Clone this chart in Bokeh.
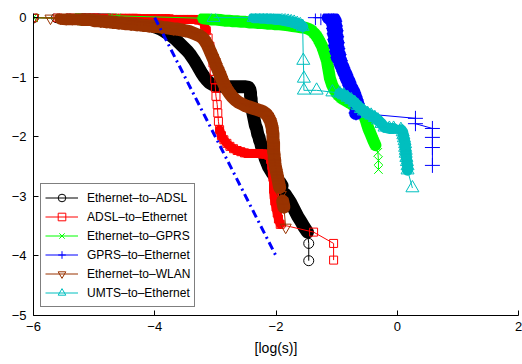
import math
from bokeh.plotting import figure
from bokeh.models import Range1d, FixedTicker, Legend, LegendItem
from bokeh.embed import file_html
from bokeh.resources import INLINE

# log10 of the complementary distribution vs log10 of delay [s]
eth_adsl_x = [-6.00, -5.62, -5.42, -5.28, -5.17, -5.08, -5.00, -4.93, -4.87, -4.81,
              -4.76, -4.71, -4.66, -4.61, -4.56, -4.51, -4.46, -4.41, -4.36, -4.31,
              -4.26, -4.21, -4.16, -4.11, -4.06, -4.01, -3.96, -3.91, -3.86, -3.81,
              -3.76, -3.71, -3.66, -3.61, -3.56, -3.51, -3.46, -3.42, -3.38, -3.34,
              -3.30, -3.26, -3.22, -3.18, -3.14, -3.10, -3.05, -3.00, -2.95, -2.90,
              -2.85, -2.80, -2.75, -2.70, -2.65, -2.60, -2.55, -2.50, -2.45, -2.43,
              -2.42, -2.42, -2.41, -2.41, -2.40, -2.40, -2.39, -2.38, -2.37, -2.36,
              -2.35, -2.34, -2.32, -2.31, -2.30, -2.28, -2.27, -2.25, -2.24, -2.22,
              -2.21, -2.19, -2.18, -2.16, -2.14, -2.12, -2.09, -2.06, -2.03, -2.00,
              -1.97, -1.93, -1.90, -1.85, -1.80, -1.76, -1.72, -1.68, -1.64, -1.59,
              -1.54, -1.48, -1.46, -1.46]
eth_adsl_y = [0.00, 0.00, -0.01, -0.01, -0.01, -0.02, -0.02, -0.02, -0.03, -0.03,
              -0.03, -0.04, -0.04, -0.05, -0.05, -0.06, -0.06, -0.07, -0.08, -0.08,
              -0.09, -0.10, -0.11, -0.12, -0.13, -0.15, -0.17, -0.19, -0.22, -0.25,
              -0.28, -0.32, -0.36, -0.41, -0.46, -0.51, -0.56, -0.61, -0.67, -0.73,
              -0.80, -0.87, -0.94, -1.00, -1.05, -1.09, -1.12, -1.14, -1.15, -1.15,
              -1.16, -1.16, -1.16, -1.16, -1.16, -1.16, -1.16, -1.16, -1.17, -1.21,
              -1.26, -1.31, -1.36, -1.41, -1.46, -1.51, -1.56, -1.61, -1.66, -1.71,
              -1.76, -1.81, -1.86, -1.91, -1.96, -2.01, -2.06, -2.11, -2.16, -2.21,
              -2.26, -2.31, -2.36, -2.41, -2.46, -2.51, -2.56, -2.61, -2.65, -2.69,
              -2.73, -2.77, -2.82, -2.96, -3.04, -3.10, -3.18, -3.26, -3.34, -3.42,
              -3.51, -3.60, -3.79, -4.08]

adsl_eth_x = [-6.00, -5.60, -5.40, -5.25, -5.12, -5.00, -4.90, -4.81, -4.73, -4.66,
              -4.60, -4.54, -4.48, -4.42, -4.36, -4.30, -4.24, -4.18, -4.12, -4.06,
              -4.00, -3.94, -3.88, -3.82, -3.76, -3.70, -3.64, -3.58, -3.52, -3.46,
              -3.40, -3.34, -3.28, -3.22, -3.18, -3.15, -3.12, -3.09, -3.06, -3.04,
              -3.02, -3.01, -3.00, -2.99, -2.97, -2.96, -2.95, -2.93, -2.90, -2.86,
              -2.81, -2.76, -2.70, -2.64, -2.58, -2.52, -2.46, -2.40, -2.34, -2.28,
              -2.22, -2.17, -2.12, -2.09, -2.07, -2.06, -2.05, -2.04, -2.04, -2.03,
              -2.02, -2.00, -1.98, -1.96, -1.93, -1.38, -1.05, -1.05]
adsl_eth_y = [0.00, 0.00, 0.00, 0.00, 0.00, 0.00, -0.01, -0.01, -0.01, -0.01,
              -0.01, -0.01, -0.01, -0.01, -0.01, -0.01, -0.02, -0.02, -0.02, -0.02,
              -0.02, -0.02, -0.02, -0.02, -0.02, -0.03, -0.03, -0.03, -0.03, -0.03,
              -0.03, -0.03, -0.04, -0.05, -0.12, -0.22, -0.34, -0.48, -0.62, -0.76,
              -0.90, -1.04, -1.18, -1.32, -1.46, -1.60, -1.74, -1.88, -1.98, -2.05,
              -2.11, -2.16, -2.20, -2.23, -2.25, -2.27, -2.28, -2.28, -2.28, -2.28,
              -2.29, -2.29, -2.31, -2.38, -2.48, -2.58, -2.68, -2.78, -2.88, -2.98,
              -3.08, -3.18, -3.28, -3.38, -3.47, -3.60, -3.79, -4.07]

eth_gprs_x = [-6.00, -5.27, -5.17, -4.73, -4.60, -3.20, -3.13, -3.06, -2.99, -2.92,
              -2.85, -2.78, -2.71, -2.64, -2.57, -2.50, -2.43, -2.36, -2.29, -2.22,
              -2.15, -2.08, -2.01, -1.94, -1.87, -1.80, -1.73, -1.66, -1.59, -1.52,
              -1.46, -1.41, -1.37, -1.33, -1.30, -1.27, -1.24, -1.22, -1.20, -1.18,
              -1.16, -1.15, -1.14, -1.13, -1.12, -1.11, -1.09, -1.07, -1.04, -1.01,
              -0.97, -0.92, -0.87, -0.82, -0.77, -0.72, -0.67, -0.62, -0.58, -0.54,
              -0.51, -0.48, -0.44, -0.40, -0.36, -0.32, -0.31, -0.31]
eth_gprs_y = [0.00, -0.02, -0.04, 0.03, 0.03, -0.01, -0.02, -0.03, -0.03, -0.04,
              -0.05, -0.05, -0.06, -0.06, -0.07, -0.07, -0.08, -0.08, -0.09, -0.09,
              -0.10, -0.10, -0.11, -0.11, -0.12, -0.13, -0.14, -0.15, -0.16, -0.17,
              -0.19, -0.22, -0.26, -0.31, -0.36, -0.42, -0.48, -0.54, -0.60, -0.66,
              -0.72, -0.78, -0.84, -0.90, -0.96, -1.02, -1.08, -1.14, -1.20, -1.25,
              -1.30, -1.35, -1.38, -1.41, -1.44, -1.47, -1.50, -1.54, -1.58, -1.66,
              -1.75, -1.85, -1.95, -2.05, -2.14, -2.26, -2.40, -2.55]

gprs_eth_x = [-1.35, -1.26, -1.13, -1.08, -1.05, -1.03, -1.06, -1.02, -1.05, -1.01,
              -1.04, -1.00, -1.03, -0.99, -1.02, -0.98, -1.00, -0.96, -0.98, -0.94,
              -0.93, -0.90, -0.88, -0.85, -0.83, -0.80, -0.78, -0.75, -0.72, -0.70,
              -0.68, -0.66, -0.65, -0.64, -0.68, 0.30, 0.30, 0.58, 0.58, 0.58,
              0.58]
gprs_eth_y = [0.00, 0.00, 0.00, 0.00, -0.02, -0.06, -0.10, -0.14, -0.18, -0.22,
              -0.27, -0.32, -0.37, -0.42, -0.47, -0.52, -0.57, -0.62, -0.67, -0.72,
              -0.78, -0.84, -0.90, -0.96, -1.02, -1.08, -1.14, -1.20, -1.26, -1.32,
              -1.38, -1.44, -1.50, -1.56, -1.60, -1.69, -1.78, -1.86, -2.01, -2.18,
              -2.48]

eth_wlan_x = [-6.00, -5.72, -5.55, -5.46, -5.36, -5.27, -5.19, -5.12, -5.07, -5.03,
              -4.99, -4.94, -4.89, -4.84, -4.79, -4.74, -4.69, -4.64, -4.59, -4.54,
              -4.49, -4.44, -4.39, -4.34, -4.29, -4.24, -4.19, -4.14, -4.09, -4.04,
              -3.99, -3.94, -3.89, -3.84, -3.79, -3.74, -3.69, -3.64, -3.59, -3.54,
              -3.49, -3.44, -3.39, -3.34, -3.29, -3.25, -3.21, -3.17, -3.13, -3.10,
              -3.07, -3.04, -3.01, -2.98, -2.95, -2.92, -2.89, -2.86, -2.83, -2.80,
              -2.76, -2.72, -2.67, -2.62, -2.56, -2.50, -2.44, -2.38, -2.32, -2.26,
              -2.21, -2.16, -2.13, -2.11, -2.09, -2.08, -2.07, -2.06, -2.06, -2.05,
              -2.05, -2.05, -2.04, -2.04, -2.04, -2.04, -2.03, -2.03, -2.02, -2.02,
              -2.01, -2.00, -1.99, -1.98, -1.97, -1.96, -1.95, -1.94, -1.92, -1.89,
              -1.87, -1.84]
eth_wlan_y = [0.00, -0.01, -0.01, -0.02, -0.02, -0.02, -0.03, -0.03, -0.03, -0.04,
              -0.05, -0.05, -0.06, -0.06, -0.07, -0.07, -0.08, -0.08, -0.09, -0.09,
              -0.10, -0.10, -0.11, -0.11, -0.12, -0.12, -0.13, -0.13, -0.14, -0.14,
              -0.15, -0.15, -0.16, -0.17, -0.17, -0.18, -0.19, -0.19, -0.20, -0.21,
              -0.22, -0.23, -0.25, -0.27, -0.29, -0.31, -0.34, -0.39, -0.46, -0.53,
              -0.60, -0.67, -0.74, -0.82, -0.89, -0.96, -1.04, -1.11, -1.17, -1.22,
              -1.28, -1.33, -1.38, -1.42, -1.45, -1.48, -1.50, -1.52, -1.54, -1.56,
              -1.58, -1.62, -1.66, -1.70, -1.74, -1.78, -1.82, -1.86, -1.90, -1.95,
              -2.00, -2.05, -2.10, -2.15, -2.20, -2.25, -2.30, -2.35, -2.40, -2.45,
              -2.50, -2.55, -2.60, -2.65, -2.70, -2.75, -2.80, -2.85, -2.97, -3.08,
              -3.18, -3.52]

umts_eth_x = [-3.03, -2.37, -2.30, -2.24, -2.18, -2.12, -2.06, -2.00, -1.95, -1.90,
              -1.85, -1.80, -1.75, -1.70, -1.65, -1.60, -1.56, -1.55, -1.54, -1.54,
              -1.33, -1.07, -0.95, -0.88, -0.82, -0.76, -0.70, -0.65, -0.60, -0.55,
              -0.49, -0.43, -0.37, -0.32, -0.26, -0.21, -0.13, -0.06, 0.06, 0.09,
              0.10, 0.11, 0.12, 0.13, 0.13, 0.14, 0.14, 0.15, 0.16, 0.17,
              0.17, 0.25]
umts_eth_y = [0.00, 0.00, 0.00, -0.01, -0.01, -0.02, -0.02, -0.03, -0.03, -0.04,
              -0.05, -0.06, -0.07, -0.08, -0.10, -0.12, -0.15, -0.72, -1.02, -1.22,
              -1.22, -1.25, -1.27, -1.30, -1.34, -1.38, -1.43, -1.48, -1.53, -1.57,
              -1.61, -1.64, -1.68, -1.72, -1.78, -1.84, -1.86, -1.86, -1.88, -1.92,
              -1.97, -2.02, -2.07, -2.12, -2.18, -2.23, -2.28, -2.35, -2.42, -2.49,
              -2.56, -2.86]

# slope -2 reference line
ref_x = [-4.0, -2.0]
ref_y = [0.0, -4.0]

x_ticks = [-6, -4, -2, 0, 2]
y_ticks = [-5, -4, -3, -2, -1, 0]
x_label = "[log(s)]"

# name, x, y, colour, marker, marker size, width of the overlap band, overlap gap [px]
series = [
    ("Ethernet–to–ADSL", eth_adsl_x, eth_adsl_y, "#000000", "circle", 10, 13, 6.5),
    ("ADSL–to–Ethernet", adsl_eth_x, adsl_eth_y, "#ff0000", "square", 8, 9, 6.5),
    ("Ethernet–to–GPRS", eth_gprs_x, eth_gprs_y, "#00ff00", "x", 12, 12, 6.5),
    ("GPRS–to–Ethernet", gprs_eth_x, gprs_eth_y, "#0000ff", "cross", 15, 14, 5.0),
    ("Ethernet–to–WLAN", eth_wlan_x, eth_wlan_y, "#993300", "inverted_triangle", 11, 13, 6.5),
    ("UMTS–to–Ethernet", umts_eth_x, umts_eth_y, "#00bfbf", "triangle", 13, 11, 6.5),
]

FONT = "Liberation Sans"
X0, X1, Y0, Y1 = -6, 2, -5, 0.07
W, H = 522, 364
BL, BR, BT, BB = 33, 4, 13, 49
PX = (W - BL - BR) / (X1 - X0)
PY = (H - BT - BB) / (Y1 - Y0)

p = figure(width=W, height=H,
           x_range=Range1d(X0, X1), y_range=Range1d(Y0, Y1),
           min_border_left=BL, min_border_right=BR,
           min_border_top=BT, min_border_bottom=BB,
           output_backend="svg", toolbar_location=None)

p.outline_line_color = None
p.grid.visible = False

p.xaxis.ticker = FixedTicker(ticks=x_ticks)
p.yaxis.ticker = FixedTicker(ticks=y_ticks)
p.xaxis.major_label_overrides = {t: str(t).replace("-", "\u2212") for t in x_ticks}
p.yaxis.major_label_overrides = {t: str(t).replace("-", "\u2212") for t in y_ticks}
p.xaxis.axis_label = x_label
for ax in (p.xaxis, p.yaxis):
    ax.major_tick_in = 5
    ax.major_tick_out = 0
    ax.minor_tick_in = 0
    ax.minor_tick_out = 0
    ax.axis_line_color = "#000000"
    ax.major_tick_line_color = "#000000"
    ax.major_label_text_font = FONT
    ax.major_label_text_font_size = "13px"
    ax.major_label_text_color = "#000000"
p.xaxis.major_label_standoff = 6
p.yaxis.major_label_standoff = 7
p.xaxis.axis_label_text_font = FONT
p.xaxis.axis_label_text_font_size = "14px"
p.xaxis.axis_label_text_font_style = "normal"
p.xaxis.axis_label_text_color = "#000000"
p.xaxis.axis_label_standoff = 6


def dense_runs(xs, ys, gap):
    """Runs of consecutive samples whose markers overlap on screen."""
    runs, cur = [], None
    for i in range(len(xs) - 1):
        d = math.hypot((xs[i + 1] - xs[i]) * PX, (ys[i + 1] - ys[i]) * PY)
        if d < gap:
            if cur is None:
                cur = ([xs[i]], [ys[i]])
            cur[0].append(xs[i + 1])
            cur[1].append(ys[i + 1])
        elif cur is not None:
            runs.append(cur)
            cur = None
    if cur is not None:
        runs.append(cur)
    return runs


items = []
for name, xs, ys, color, marker, size, band, gap in series:
    runs = dense_runs(xs, ys, gap)
    if runs:
        p.multi_line([r[0] for r in runs], [r[1] for r in runs],
                     line_color=color, line_width=band,
                     line_join="round", line_cap="round")
    ln = p.line(xs, ys, line_color=color, line_width=1)
    mk = p.scatter(xs, ys, marker=marker, size=size, line_color=color,
                   fill_color=None, line_width=1)
    items.append(LegendItem(label=name, renderers=[ln, mk]))

p.line(ref_x, ref_y, line_color="#0000ff", line_width=3, line_dash="8 4 2 4")

legend = Legend(items=items, location=(7, 8),
                label_text_font=FONT, label_text_font_size="12px",
                label_text_color="#000000",
                glyph_width=33, glyph_height=19, label_height=19,
                label_standoff=9, spacing=0, padding=4, margin=0,
                border_line_color="#000000", border_line_width=1,
                background_fill_color="white", background_fill_alpha=1.0)
p.add_layout(legend)

open("out.html", "w").write(file_html(p, INLINE))
